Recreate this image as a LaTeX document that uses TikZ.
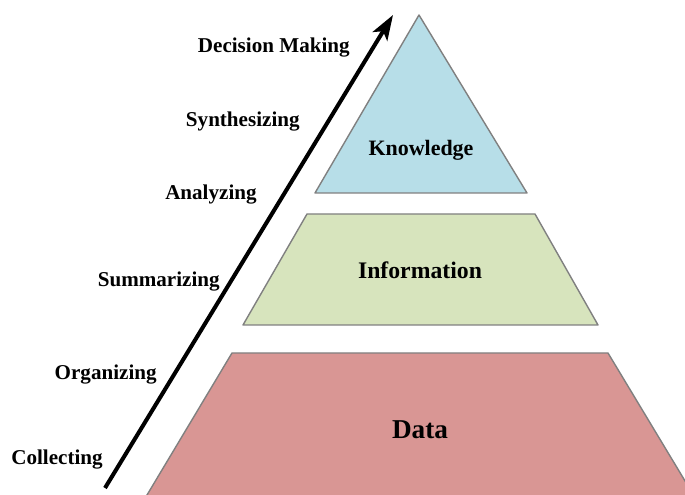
\documentclass[tikz,border=0pt]{standalone}
\usepackage{fontspec}
\setmainfont{Liberation Serif}
\usepackage{tikz}
\usetikzlibrary{arrows.meta}
\definecolor{knowblue}{RGB}{183, 222, 232}
\definecolor{infogreen}{RGB}{215, 228, 189}
\definecolor{datared}{RGB}{217, 150, 148}

\begin{document}
\begin{tikzpicture}[font=\bfseries\fontsize{12}{14}\selectfont]
\tikzset{
  layer/.style={draw=black!50, line width=0.8pt, line join=round},
  steplabel/.style={anchor=east, inner sep=0pt},
}
\useasboundingbox (0,0) rectangle (13.7,9.9);

% Pyramid layers
\begin{scope}
\clip (0,0) rectangle (13.7,9.9);
\filldraw[layer, fill=datared] (4.64,2.84) -- (12.16,2.84) -- (13.90,-0.05) -- (2.91,-0.05) -- cycle;
\end{scope}
\filldraw[layer, fill=infogreen] (6.14,5.62) -- (10.70,5.62) -- (11.96,3.40) -- (4.86,3.40) -- cycle;
\filldraw[layer, fill=knowblue] (8.38,9.60) -- (10.54,6.04) -- (6.30,6.04) -- cycle;

% Layer names
\node (data) at (8.40,1.30) {\fontsize{15.5}{18}\selectfont Data};
\node (info) at (8.40,4.50) {\fontsize{13.5}{16}\selectfont Information};
\node (know) at (8.42,6.90) {\fontsize{12.5}{15}\selectfont Knowledge};

% Process arrow
\coordinate (base) at (2.10,0.14);
\coordinate (tip) at (7.86,9.60);
\draw[-{Stealth[length=5mm, width=3.4mm, inset=1.2mm]}, line width=2.3pt] (base) -- (tip);

% Steps along the arrow
\node[steplabel] (collect) at (2.06,0.70) {Collecting};
\node[steplabel] (organize) at (3.14,2.40) {Organizing};
\node[steplabel] (summarize) at (4.40,4.26) {Summarizing};
\node[steplabel] (analyze) at (5.14,6.00) {Analyzing};
\node[steplabel] (synth) at (6.00,7.46) {Synthesizing};
\node[steplabel] (decide) at (7.00,8.94) {Decision Making};
\end{tikzpicture}
\end{document}
